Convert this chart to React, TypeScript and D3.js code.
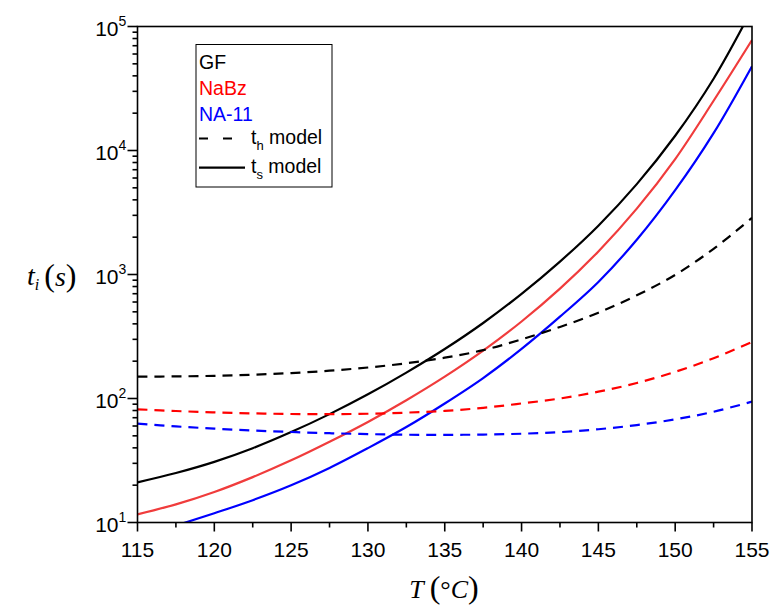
import React from "react";
import * as d3 from "d3";

const temps = [115, 117.5, 120, 122.5, 125, 127.5, 130, 132.5, 135, 137.5, 140, 142.5, 145, 147.5, 150, 152.5, 155];

// t_s model (solid)
const gfTs = [21.09, 25.06, 30.83, 39.72, 53.58, 74.82, 108.1, 161.8, 250.6, 406.4, 698.2, 1271, 2477, 5358, 13150, 37930, 137700];
const nabzTs = [11.64, 14.0, 17.62, 23.23, 31.7, 44.77, 64.71, 96.83, 150.0, 243.2, 417.8, 769.1, 1535, 3396, 8531, 25180, 77800];
const na11Ts = [7.586, 9.441, 11.89, 15.14, 19.95, 27.54, 39.81, 58.88, 91.2, 146.2, 251.2, 457.1, 871.0, 1905, 4786, 13800, 47860];

// t_h model (dashed)
const gfTh = [150.0, 150.7, 152.4, 155.6, 160.3, 167.5, 177.8, 192.3, 213.3, 245.5, 299.9, 377.6, 492.0, 679.2, 993.1, 1611, 2864];
const nabzTh = [81.85, 79.25, 77.27, 75.86, 74.99, 74.82, 75.34, 76.91, 79.43, 84.14, 91.2, 100.0, 113.5, 133.4, 164.1, 211.3, 285.1];
const na11Th = [62.66, 59.57, 57.15, 55.21, 53.7, 52.48, 51.64, 51.05, 50.93, 51.17, 52.0, 53.58, 56.49, 61.09, 67.92, 78.16, 94.41];

const xTicks = [115, 120, 125, 130, 135, 140, 145, 150, 155];
const yExponents = [1, 2, 3, 4, 5];

const legendLabels = [
  { text: "GF", color: "#000000" },
  { text: "NaBz", color: "#ff0000" },
  { text: "NA-11", color: "#0000ff" },
];

const seriesDefs = [
  { name: "GF ts", values: gfTs, color: "#000000", dashed: false },
  { name: "NaBz ts", values: nabzTs, color: "#f03c3c", dashed: false },
  { name: "NA-11 ts", values: na11Ts, color: "#0000ff", dashed: false },
  { name: "GF th", values: gfTh, color: "#000000", dashed: true },
  { name: "NaBz th", values: nabzTh, color: "#ff0000", dashed: true },
  { name: "NA-11 th", values: na11Th, color: "#0000ff", dashed: true },
];

const L = 137.5, R = 752, T0 = 26.5, B = 522.5;

export default function App() {
  const x = d3.scaleLinear().domain([115, 155]).range([L, R]);
  const y = d3.scaleLog().domain([10, 1e5]).range([B, T0]);
  const line = d3
    .line<[number, number]>()
    .x((d) => x(d[0]))
    .y((d) => y(d[1]))
    .curve(d3.curveCatmullRom.alpha(0.5));

  const minorX = d3.range(115, 155.01, 2.5).filter((v) => v % 5 !== 0);
  const minorY: number[] = [];
  for (let e = 1; e < 5; e++) for (let m = 2; m <= 9; m++) minorY.push(m * Math.pow(10, e));

  const font = "'Liberation Sans', Arial, sans-serif";
  const serif = "'Liberation Serif', 'Times New Roman', serif";
  const legendY = [68.5, 94.5, 121];

  return (
    <svg width={773} height={610} style={{ position: "absolute", left: 0, top: 0, background: "#fff" }}>
      <defs>
        <clipPath id="plotclip">
          <rect x={L} y={T0} width={R - L} height={B - T0} />
        </clipPath>
      </defs>
      <rect x={0} y={0} width={773} height={610} fill="#fff" />
      <g clipPath="url(#plotclip)">
        {seriesDefs.map((s) => (
          <path
            key={s.name}
            d={line(temps.map((t, i) => [t, s.values[i]] as [number, number])) || ""}
            fill="none"
            stroke={s.color}
            strokeWidth={2.2}
            strokeDasharray={s.dashed ? "10,7" : undefined}
          />
        ))}
      </g>
      {/* frame */}
      <rect x={L} y={T0} width={R - L} height={B - T0} fill="none" stroke="#000" strokeWidth={1.6} />
      {/* x ticks */}
      {xTicks.map((t) => (
        <g key={"xt" + t}>
          <line x1={x(t)} x2={x(t)} y1={B} y2={B + 9} stroke="#000" strokeWidth={1.6} />
          <text x={x(t)} y={B + 34} textAnchor="middle" fontFamily={font} fontSize={21} fill="#000">
            {t}
          </text>
        </g>
      ))}
      {minorX.map((t) => (
        <line key={"xm" + t} x1={x(t)} x2={x(t)} y1={B} y2={B + 5} stroke="#000" strokeWidth={1.6} />
      ))}
      {/* y ticks */}
      {yExponents.map((e) => (
        <g key={"yt" + e}>
          <line x1={L - 10} x2={L} y1={y(Math.pow(10, e))} y2={y(Math.pow(10, e))} stroke="#000" strokeWidth={1.6} />
          <text x={L - 19} y={y(Math.pow(10, e)) + 9} textAnchor="end" fontFamily={font} fontSize={21} fill="#000">
            10
          </text>
          <text x={L - 19} y={y(Math.pow(10, e)) - 1} textAnchor="start" fontFamily={font} fontSize={14} fill="#000">
            {e}
          </text>
        </g>
      ))}
      {minorY.map((v) => (
        <line key={"ym" + v} x1={L - 5} x2={L} y1={y(v)} y2={y(v)} stroke="#000" strokeWidth={1.6} />
      ))}
      {/* axis titles */}
      <text x={444} y={598} textAnchor="middle" fontFamily={serif} fontSize={26} fill="#000">
        <tspan fontStyle="italic">T</tspan>
        <tspan dx={6} fontSize={32}>(</tspan>
        <tspan>°</tspan>
        <tspan fontStyle="italic">C</tspan>
        <tspan fontSize={32}>)</tspan>
      </text>
      <text x={27} y={285} fontFamily={serif} fontSize={28} fill="#000">
        <tspan fontStyle="italic">t</tspan>
        <tspan fontStyle="italic" fontSize={16} dy={5}>i</tspan>
        <tspan dx={5} dy={-4} fontSize={32}>(</tspan>
        <tspan fontStyle="italic" fontSize={28}>s</tspan>
        <tspan fontSize={32}>)</tspan>
      </text>
      {/* legend */}
      <rect x={196} y={44.5} width={136} height={142.5} fill="#fff" stroke="#000" strokeWidth={1} />
      {legendLabels.map((l, i) => (
        <text key={l.text} x={199} y={legendY[i]} fontFamily={font} fontSize={19.5} fill={l.color}>
          {l.text}
        </text>
      ))}
      <line x1={199} x2={234} y1={138.5} y2={138.5} stroke="#000" strokeWidth={2.2} strokeDasharray="9,15" />
      <text x={251} y={143.5} fontFamily={font} fontSize={19.5} fill="#000">
        t<tspan fontSize={13} dy={6}>h</tspan>
        <tspan dy={-6}> model</tspan>
      </text>
      <line x1={199} x2={245} y1={167.7} y2={167.7} stroke="#000" strokeWidth={2.2} />
      <text x={251} y={172.5} fontFamily={font} fontSize={19.5} fill="#000">
        t<tspan fontSize={13} dy={6}>s</tspan>
        <tspan dy={-6}> model</tspan>
      </text>
    </svg>
  );
}
